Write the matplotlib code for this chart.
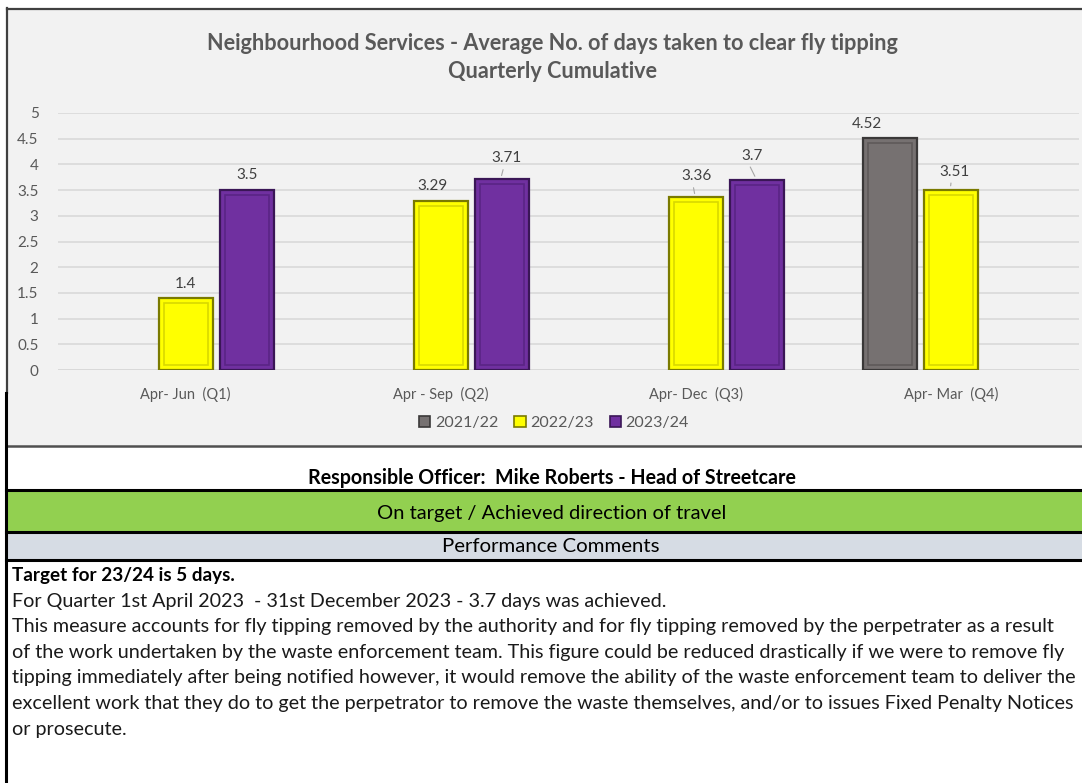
import matplotlib
matplotlib.use("Agg")
import matplotlib.pyplot as plt
from matplotlib.patches import Rectangle
import numpy as np

# ---------------- data ----------------
categories = ["Apr- Jun  (Q1)", "Apr - Sep  (Q2)", "Apr- Dec  (Q3)", "Apr- Mar  (Q4)"]
series_names = ["2021/22", "2022/23", "2023/24"]
vals_2021 = [np.nan, np.nan, np.nan, 4.52]
vals_2022 = [1.4, 3.29, 3.36, 3.51]
vals_2023 = [3.5, 3.71, 3.7, np.nan]
label_text_2021 = ["", "", "", "4.52"]
label_text_2022 = ["1.4", "3.29", "3.36", "3.51"]
label_text_2023 = ["3.5", "3.71", "3.7", ""]
yticks = [0, 0.5, 1, 1.5, 2, 2.5, 3, 3.5, 4, 4.5, 5]
ytick_labels = ["0", "0.5", "1", "1.5", "2", "2.5", "3", "3.5", "4", "4.5", "5"]

title_lines = ["Neighbourhood Services - Average No. of days taken to clear fly tipping",
               "Quarterly Cumulative"]
officer_text = "Responsible Officer:  Mike Roberts - Head of Streetcare"
status_text = "On target / Achieved direction of travel"
comments_header = "Performance Comments"
comment_bold = "Target for 23/24 is 5 days."
comment_lines = [
    "For Quarter 1st April 2023  - 31st December 2023 - 3.7 days was achieved.",
    "This measure accounts for fly tipping removed by the authority and for fly tipping removed by the perpetrater as a result",
    "of the work undertaken by the waste enforcement team. This figure could be reduced drastically if we were to remove fly",
    "tipping immediately after being notified however, it would remove the ability of the waste enforcement team to deliver the",
    "excellent work that they do to get the perpetrator to remove the waste themselves, and/or to issues Fixed Penalty Notices",
    "or prosecute.",
]

# ---------------- styles ----------------
W, H = 1082, 783
face = {"2021/22": "#767171", "2022/23": "#ffff00", "2023/24": "#7030a0"}
edge = {"2021/22": "#3a3838", "2022/23": "#7a7a00", "2023/24": "#3a1656"}
inner = {"2021/22": "#5e5a5a", "2022/23": "#d8d800", "2023/24": "#5a2585"}
# label offsets in pixels (dx, dy above bar top), leader flag
label_style = {
    ("2021/22", 3): (-23, 14, False),
    ("2022/23", 0): (0, 14, False),
    ("2022/23", 1): (-8, 15, False),
    ("2022/23", 2): (0, 21, True),
    ("2022/23", 3): (3, 18, True),
    ("2023/24", 0): (0, 15, False),
    ("2023/24", 1): (5, 21, True),
    ("2023/24", 2): (-5, 24, True),
}
TXT = "#595959"
CHART_FONT = ["Lato", "DejaVu Sans"]
BODY_FONT = ["Lato", "DejaVu Sans"]
HEAD_FONT = ["Lato", "DejaVu Sans"]

fig = plt.figure(figsize=(W / 100, H / 100), dpi=100)
fig.patch.set_facecolor("white")

bg = fig.add_axes([0, 0, 1, 1])
bg.set_xlim(0, W)
bg.set_ylim(H, 0)
bg.axis("off")
bg.set_zorder(0)


def text_width(t):
    fig.canvas.draw()
    return t.get_window_extent(renderer=fig.canvas.get_renderer()).width


def fit_text(ax, x, y, s, target_w, size0=12, **kw):
    t = ax.text(x, y, s, fontsize=size0, **kw)
    t.set_fontsize(size0 * target_w / text_width(t))
    return t


# chart background & borders
bg.add_patch(Rectangle((7, 8), W - 7, 438, facecolor="#f2f2f2", edgecolor="none"))
bg.plot([7, W], [8.5, 8.5], color="#404040", lw=1.6)
bg.plot([7, 7], [8, 393], color="#404040", lw=1.6)
bg.plot([6, W], [446, 446], color="#505050", lw=1.8)
bg.plot([6, 6], [393, H], color="black", lw=2.2)
# green status band
bg.add_patch(Rectangle((6, 490), W, 42, facecolor="#92d050", edgecolor="none"))
bg.plot([6, W], [489.5, 489.5], color="black", lw=2.2)
bg.plot([6, W], [532, 532], color="black", lw=2.2)
# comments header band
bg.add_patch(Rectangle((6, 534), W, 25, facecolor="#d6dce4", edgecolor="none"))
bg.plot([6, W], [559.5, 559.5], color="black", lw=2.2)

# title
fit_text(bg, 552, 44, title_lines[0], 687, color=TXT, fontweight="bold",
         family=CHART_FONT, ha="center", va="center")
fit_text(bg, 553, 71, title_lines[1], 207, color=TXT, fontweight="bold",
         family=CHART_FONT, ha="center", va="center")

# table texts
fit_text(bg, 552, 478, officer_text, 485, color="black", fontweight="bold",
         family=HEAD_FONT, ha="center", va="center")
fit_text(bg, 552, 513, status_text, 350, color="black",
         family=HEAD_FONT, ha="center", va="center")
fit_text(bg, 551, 547, comments_header, 217, color="black",
         family=HEAD_FONT, ha="center", va="center")
fit_text(bg, 12, 575, comment_bold, 221, color="black", fontweight="bold",
         family=BODY_FONT, ha="left", va="center")

# body size: make the widest line fit inside the page
probe_size = 12
widths = []
for line in comment_lines:
    tp = bg.text(12, 626, line, fontsize=probe_size, family=BODY_FONT)
    widths.append(text_width(tp))
    tp.remove()
body_size = probe_size * 1062 / max(widths)
for i, line in enumerate(comment_lines):
    bg.text(12, 601 + i * 25.6, line, fontsize=body_size, color="#1a1a1a",
            family=BODY_FONT, ha="left", va="center")

# ---------------- chart ----------------
left, right, y0, y5 = 58, 1079, 370, 113
ax = fig.add_axes([left / W, (H - y0) / H, (right - left) / W, (y0 - y5) / H])
ax.set_zorder(2)
ax.patch.set_alpha(0)
ax.set_xlim(-0.5, len(categories) - 0.5)
ax.set_ylim(0, 5)
for s in ax.spines.values():
    s.set_visible(False)
ax.set_yticks(yticks)
ax.set_yticklabels(ytick_labels, family=CHART_FONT, fontsize=11, color=TXT)
ax.tick_params(axis="y", length=0, pad=14)
ax.set_xticks(np.arange(len(categories)))
ax.set_xticklabels(categories, family=CHART_FONT, fontsize=10.5, color=TXT)
ax.tick_params(axis="x", length=0, pad=12)
ax.grid(axis="y", color="#d9d9d9", lw=1.2)
ax.set_axisbelow(True)
ax.axhline(0, color="#d9d9d9", lw=1.2, zorder=1)

ppu_x = (right - left) / len(categories)  # px per category unit
ppu_y = (y0 - y5) / 5.0
bw = 54 / ppu_x
off = 61 / ppu_x
x = np.arange(len(categories))
all_vals = [vals_2021, vals_2022, vals_2023]
all_labels = [label_text_2021, label_text_2022, label_text_2023]
inset_x = 5 / ppu_x
inset_y = 5 / ppu_y
for k, (name, vals, labs) in enumerate(zip(series_names, all_vals, all_labels)):
    vals = np.array(vals, dtype=float)
    xs = x + (k - 1) * off
    ax.bar(xs, vals, width=bw, color=face[name], edgecolor=edge[name], lw=1.6, zorder=3)
    ax.bar(xs, vals - 2 * inset_y, bottom=inset_y, width=bw - 2 * inset_x,
           color="none", edgecolor=inner[name], lw=1.2, zorder=4)
    for i, (xv, v, lab) in enumerate(zip(xs, vals, labs)):
        if np.isnan(v) or not lab:
            continue
        dx, dy, leader = label_style.get((name, i), (0, 14, False))
        ax.annotate(lab, (xv, v), xytext=(dx * 0.72, dy * 0.72), textcoords="offset points",
                    ha="center", va="center", fontsize=11, color="#404040",
                    family=CHART_FONT, zorder=5)
        if leader:
            ax.annotate("", (xv - 0.004, v + 0.02),
                        xytext=(dx * 0.72 - 1.5, dy * 0.72 - 7), textcoords="offset points",
                        arrowprops=dict(arrowstyle="-", color="#a6a6a6", lw=0.8), zorder=5)

handles = [Rectangle((0, 0), 1, 1, facecolor=face[n], edgecolor=edge[n], lw=1.2) for n in series_names]
leg = ax.legend(handles, series_names, ncol=3, loc="center",
                bbox_to_anchor=(554 / W, 1 - 423 / H), bbox_transform=fig.transFigure,
                frameon=False, handlelength=0.7, handleheight=0.7, handletextpad=0.3,
                columnspacing=1.0, prop={"family": CHART_FONT, "size": 11.5})
for txt in leg.get_texts():
    txt.set_color(TXT)

fig.savefig("out.png", dpi=100)
